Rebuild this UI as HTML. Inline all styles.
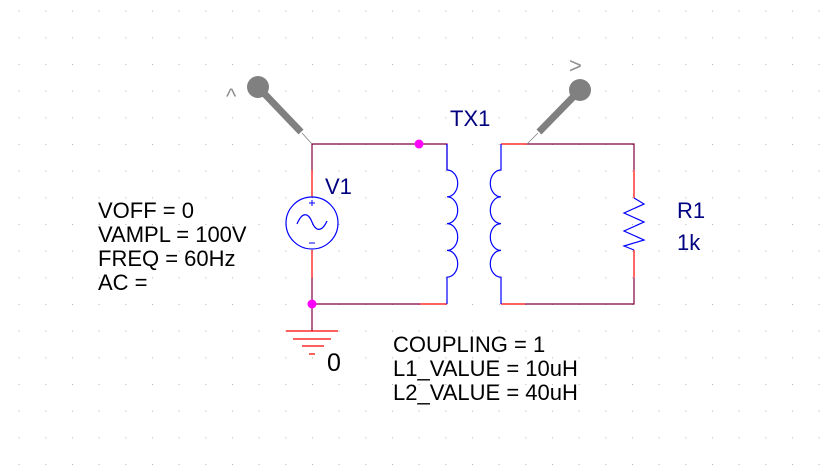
<!DOCTYPE html>
<html><head><style>body{margin:0;background:#fff}svg{display:block}text{font-family:"Liberation Sans",Arial,sans-serif}</style></head><body>
<svg width="829" height="466" viewBox="0 0 829 466" xmlns="http://www.w3.org/2000/svg">
<defs><pattern id="g" x="18.67" y="10.67" width="26.667" height="26.667" patternUnits="userSpaceOnUse"><rect x="0" y="0" width="1" height="1" fill="#b4b4b4"/></pattern></defs>
<rect width="829" height="466" fill="url(#g)"/>
<g fill="none" stroke-width="1.2">
<path d="M312 170 V144 H447 V170" stroke="#800040"/>
<path d="M312 278 V304 H420" stroke="#800040"/>
<path d="M420 304 H447" stroke="#ff0000"/>
<path d="M312 170 V197 M312 250 V278" stroke="#ff0000"/>
<circle cx="312" cy="223" r="26" stroke="#0000ff"/>
<path d="M297 224 C302 212,308 212,312 222 C316 232,322 232,327 221" stroke="#0000ff"/>
<path d="M309 203 h6 M312 200 v6 M309 243 h6" stroke="#0000ff" stroke-width="1"/>
<path d="M447 144 V170 a10.7 13.4 0 0 1 0 26.8 a10.7 13.4 0 0 1 0 26.8 a10.7 13.4 0 0 1 0 26.8 a10.7 13.4 0 0 1 0 26.8 V304" stroke="#0000ff"/>
<path d="M312 304 V331" stroke="#800040"/>
<path d="M286 331 H338 M293 339 H331 M302 346 H324 M309 354 H315" stroke="#ff0000"/>
<path d="M527 144 H634 V170 M634 278 V304 H525" stroke="#800040"/>
<path d="M501 144 H527 M501 304 H525 M634 170 V198 M634 250 V278" stroke="#ff0000"/>
<path d="M501 144 V170 a10.7 13.4 0 0 0 0 26.8 a10.7 13.4 0 0 0 0 26.8 a10.7 13.4 0 0 0 0 26.8 a10.7 13.4 0 0 0 0 26.8 V304" stroke="#0000ff"/>
<path d="M634 198 L644 204 L624 213 L644 222 L624 231 L644 240 L624 246 L634 250" stroke="#0000ff"/>
</g>
<circle cx="419" cy="144" r="4.5" fill="#ff00ff"/>
<circle cx="312" cy="304" r="4.5" fill="#ff00ff"/>
<line x1="302" y1="133" x2="312" y2="144" stroke="#808080" stroke-width="0.8"/>
<line x1="258" y1="87" x2="301" y2="132" stroke="#808080" stroke-width="7"/>
<circle cx="258" cy="87" r="11" fill="#808080"/>
<line x1="538" y1="133" x2="527" y2="144" stroke="#808080" stroke-width="0.8"/>
<line x1="580" y1="90" x2="539" y2="132" stroke="#808080" stroke-width="7"/>
<circle cx="580" cy="90" r="11" fill="#808080"/>
<text x="226" y="104" font-size="22" fill="#909090">^</text>
<text x="569" y="73" font-size="22" fill="#909090">&gt;</text>
<g font-size="22" fill="#000">
<text x="98" y="218">VOFF = 0</text>
<text x="98" y="242">VAMPL = 100V</text>
<text x="98" y="266">FREQ = 60Hz</text>
<text x="98" y="290">AC =</text>
<text x="393" y="352">COUPLING = 1</text>
<text x="393" y="376">L1_VALUE = 10uH</text>
<text x="393" y="400">L2_VALUE = 40uH</text>
<text x="327" y="371" font-size="25">0</text>
</g>
<g font-size="22" fill="#000080">
<text x="325" y="194">V1</text>
<text x="450" y="126">TX1</text>
<text x="677" y="218">R1</text>
<text x="677" y="250">1k</text>
</g>
</svg>
</body></html>
